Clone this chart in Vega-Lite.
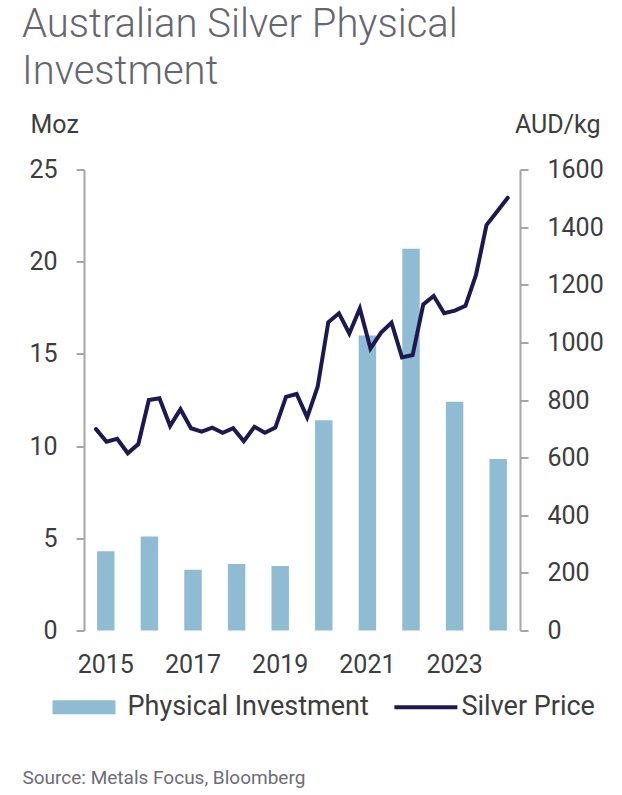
{
  "$schema": "https://vega.github.io/schema/vega-lite/v6.json",
  "width": 436,
  "height": 461,
  "autosize": {"type": "none"},
  "padding": {"left": 84, "top": 169.5, "right": 102, "bottom": 164.5},
  "background": "white",
  "config": {"view": {"stroke": null}, "font": "Roboto"},
  "title": {
    "text": ["Australian Silver Physical", "Investment"],
    "anchor": "start",
    "frame": "group",
    "font": "Roboto",
    "fontSize": 40,
    "fontWeight": 300,
    "color": "#66666f",
    "lineHeight": 47.5,
    "dx": -62,
    "offset": 20
  },
  "layer": [
    {
      "data": {
        "values": [
          {"year": 2015, "moz": 4.3},
          {"year": 2016, "moz": 5.1},
          {"year": 2017, "moz": 3.3},
          {"year": 2018, "moz": 3.6},
          {"year": 2019, "moz": 3.5},
          {"year": 2020, "moz": 11.4},
          {"year": 2021, "moz": 16.0},
          {"year": 2022, "moz": 20.7},
          {"year": 2023, "moz": 12.4},
          {"year": 2024, "moz": 9.3}
        ]
      },
      "mark": {"type": "bar"},
      "encoding": {
        "x": {
          "field": "year",
          "type": "ordinal",
          "scale": {"paddingInner": 0.6, "paddingOuter": 0.3},
          "axis": {
            "values": [2015, 2017, 2019, 2021, 2023],
            "domain": false,
            "ticks": false,
            "labelAngle": 0,
            "labelPadding": 22,
            "labelFontSize": 25,
            "labelColor": "#3d3d3d",
            "title": "Source: Metals Focus, Bloomberg",
            "titleAlign": "left",
            "titleBaseline": "alphabetic",
            "titleX": -62,
            "titleY": 153,
            "titleFontSize": 19,
            "titleFontWeight": "normal",
            "titleColor": "#6d6d75"
          }
        },
        "y": {
          "field": "moz",
          "type": "quantitative",
          "scale": {"domain": [0, 25]},
          "axis": {
            "values": [0, 5, 10, 15, 20, 25],
            "grid": false,
            "domainColor": "#a6a6a6",
            "domainWidth": 2,
            "tickColor": "#a6a6a6",
            "tickWidth": 2,
            "tickSize": 8,
            "labelPadding": 19,
            "labelFontSize": 25,
            "labelColor": "#3d3d3d",
            "title": "Moz",
            "titleAngle": 0,
            "titleAlign": "left",
            "titleBaseline": "alphabetic",
            "titleX": -54,
            "titleY": -37.5,
            "titleFontSize": 25,
            "titleFontWeight": "normal",
            "titleColor": "#3d3d3d"
          }
        },
        "color": {
          "datum": "Physical Investment",
          "type": "nominal",
          "scale": {
            "domain": ["Physical Investment", "Silver Price"],
            "range": ["#8fbbd3", "#1e1850"]
          },
          "legend": {
            "orient": "none",
            "legendX": -31.5,
            "legendY": 506,
            "direction": "horizontal",
            "title": null,
            "labelFont": "Roboto",
            "labelFontSize": 27,
            "labelColor": "#3d3d3d",
            "labelLimit": 0,
            "labelOffset": 12,
            "columnPadding": 17,
            "symbolSize": 3969,
            "symbolType": "M-1,-0.222H1V0.222H-1Z",
            "encode": {
              "symbols": {
                "update": {
                  "shape": {"signal": "datum.value === 'Silver Price' ? 'M-0.75,-0.065H1.25V0.065H-0.75Z' : 'M-1,-0.222H1V0.222H-1Z'"},
                  "fill": {"scale": "color", "field": "value"},
                  "stroke": {"value": "transparent"},
                  "strokeWidth": {"value": 0},
                  "opacity": {"value": 1},
                  "fillOpacity": {"value": 1}
                }
              }
            }
          }
        }
      }
    },
    {
      "data": {
        "values": [
          {"date": "2015-03-31", "price": 699},
          {"date": "2015-06-30", "price": 655},
          {"date": "2015-09-30", "price": 665},
          {"date": "2015-12-31", "price": 615},
          {"date": "2016-03-31", "price": 647},
          {"date": "2016-06-30", "price": 800},
          {"date": "2016-09-30", "price": 806},
          {"date": "2016-12-31", "price": 710},
          {"date": "2017-03-31", "price": 768},
          {"date": "2017-06-30", "price": 702},
          {"date": "2017-09-30", "price": 690},
          {"date": "2017-12-31", "price": 704},
          {"date": "2018-03-31", "price": 686},
          {"date": "2018-06-30", "price": 702},
          {"date": "2018-09-30", "price": 657},
          {"date": "2018-12-31", "price": 707},
          {"date": "2019-03-31", "price": 686},
          {"date": "2019-06-30", "price": 704},
          {"date": "2019-09-30", "price": 811},
          {"date": "2019-12-31", "price": 821},
          {"date": "2020-03-31", "price": 740},
          {"date": "2020-06-30", "price": 846},
          {"date": "2020-09-30", "price": 1070},
          {"date": "2020-12-31", "price": 1101},
          {"date": "2021-03-31", "price": 1031},
          {"date": "2021-06-30", "price": 1118},
          {"date": "2021-09-30", "price": 979},
          {"date": "2021-12-31", "price": 1034},
          {"date": "2022-03-31", "price": 1068},
          {"date": "2022-06-30", "price": 948},
          {"date": "2022-09-30", "price": 956},
          {"date": "2022-12-31", "price": 1132},
          {"date": "2023-03-31", "price": 1161},
          {"date": "2023-06-30", "price": 1101},
          {"date": "2023-09-30", "price": 1110},
          {"date": "2023-12-31", "price": 1127},
          {"date": "2024-03-31", "price": 1234},
          {"date": "2024-06-30", "price": 1407},
          {"date": "2024-09-30", "price": 1454},
          {"date": "2024-12-31", "price": 1502}
        ]
      },
      "mark": {"type": "line", "strokeWidth": 4, "strokeCap": "round"},
      "encoding": {
        "x": {
          "field": "date",
          "type": "temporal",
          "scale": {
            "domain": [
              {"year": 2014, "month": 12, "date": 17},
              {"year": 2025, "month": 4, "date": 16}
            ]
          },
          "axis": null
        },
        "y": {
          "field": "price",
          "type": "quantitative",
          "scale": {"domain": [0, 1600]},
          "axis": {
            "orient": "right",
            "values": [0, 200, 400, 600, 800, 1000, 1200, 1400, 1600],
            "format": "d",
            "grid": false,
            "domainColor": "#a6a6a6",
            "domainWidth": 2,
            "tickColor": "#a6a6a6",
            "tickWidth": 2,
            "tickSize": 8,
            "labelPadding": 19,
            "labelFontSize": 25,
            "labelColor": "#3d3d3d",
            "title": "AUD/kg",
            "titleAngle": 0,
            "titleAlign": "right",
            "titleBaseline": "alphabetic",
            "titleX": 80,
            "titleY": -37.5,
            "titleFontSize": 25,
            "titleFontWeight": "normal",
            "titleColor": "#3d3d3d"
          }
        },
        "color": {"datum": "Silver Price", "type": "nominal"}
      }
    }
  ],
  "resolve": {"scale": {"x": "independent", "y": "independent"}}
}
